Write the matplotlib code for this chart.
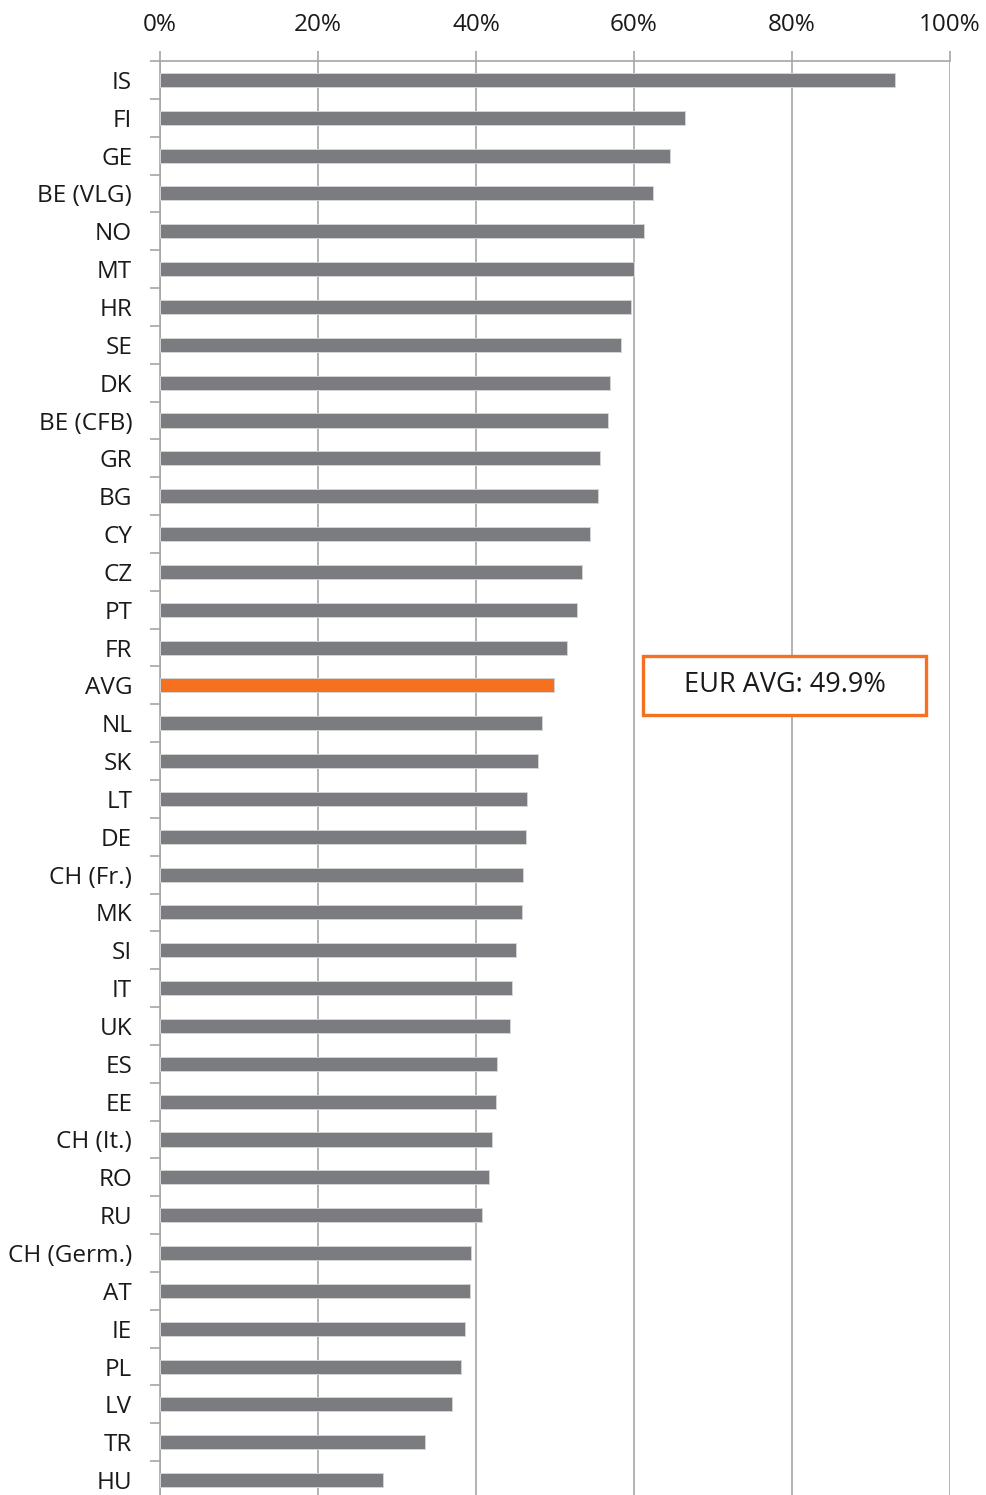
from matplotlib import pyplot as plt
from matplotlib.patches import Rectangle
from matplotlib.ticker import FuncFormatter, FixedLocator
import numpy as np

countries = ['IS', 'FI', 'GE', 'BE (VLG)', 'NO', 'MT', 'HR', 'SE', 'DK', 'BE (CFB)',
             'GR', 'BG', 'CY', 'CZ', 'PT', 'FR', 'AVG', 'NL', 'SK', 'LT',
             'DE', 'CH (Fr.)', 'MK', 'SI', 'IT', 'UK', 'ES', 'EE', 'CH (It.)', 'RO',
             'RU', 'CH (Germ.)', 'AT', 'IE', 'PL', 'LV', 'TR', 'HU']
values = [93.1, 66.5, 64.5, 62.4, 61.3, 60.0, 59.6, 58.3, 56.9, 56.7,
          55.7, 55.4, 54.4, 53.4, 52.8, 51.5, 49.9, 48.4, 47.9, 46.5,
          46.3, 46.0, 45.8, 45.1, 44.6, 44.3, 42.7, 42.5, 42.0, 41.7,
          40.8, 39.4, 39.3, 38.6, 38.1, 37.0, 33.6, 28.2]
avg_label = 'EUR AVG: 49.9%'

GREY = '#7b7c80'
ORANGE = '#f5701f'
GRID = '#a6a6a6'
TEXT = '#1a1a1a'

plt.rcParams['font.family'] = ['Open Sans', 'DejaVu Sans']

fig = plt.figure(figsize=(9.86, 14.95), dpi=100)
ax = fig.add_axes([160 / 986, -4 / 1495, (950 - 160) / 986, (1499 - 61) / 1495])

y = np.arange(len(countries))
colors = [ORANGE if c == 'AVG' else GREY for c in countries]
ax.barh(y, values, height=0.37, color=colors, edgecolor='#d4d4d4', linewidth=0.7, zorder=3)

ax.set_xlim(0, 100)
ax.set_ylim(len(countries) - 0.5, -0.5)

# x axis on top
ax.xaxis.tick_top()
ax.set_xticks(np.arange(0, 101, 20))
ax.xaxis.set_major_formatter(FuncFormatter(lambda v, p: f'{v:.0f}%'))
ax.tick_params(axis='x', which='major', length=7, width=1.2, color=GRID, pad=10,
               labelsize=17.5, labelcolor=TEXT)
ax.grid(axis='x', color=GRID, linewidth=1.2, zorder=0)

# y categories with boundary ticks
ax.set_yticks(y)
ax.set_yticklabels(countries)
ax.tick_params(axis='y', which='major', length=0, pad=20, labelsize=17.5, labelcolor=TEXT)
ax.yaxis.set_minor_locator(FixedLocator(np.arange(-0.5, len(countries), 1)))
ax.tick_params(axis='y', which='minor', length=7, width=1.2, color=GRID)

for side in ['right', 'bottom']:
    ax.spines[side].set_visible(False)
for side in ['left', 'top']:
    ax.spines[side].set_color(GRID)
    ax.spines[side].set_linewidth(1.2)

# average callout box
avg_idx = countries.index('AVG')
ax.add_patch(Rectangle((61.2, avg_idx - 0.78), 35.8, 1.56, facecolor='white',
                       edgecolor=ORANGE, linewidth=2.4, zorder=4))
ax.text(79.1, avg_idx, avg_label, ha='center', va='center', fontsize=19.5,
        color=TEXT, zorder=5)

fig.savefig('out.png', dpi=100)
